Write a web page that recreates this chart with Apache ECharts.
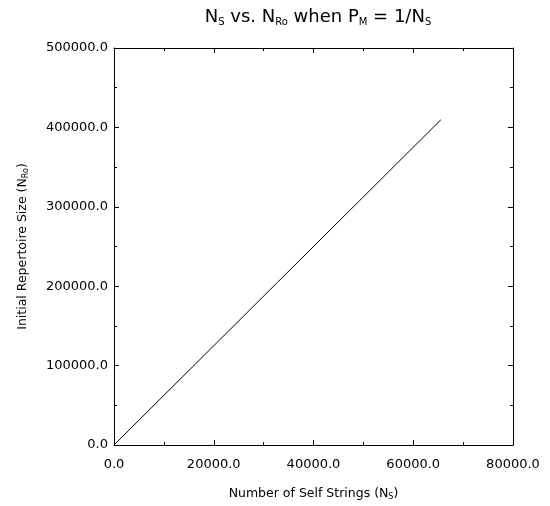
<!DOCTYPE html>
<html><head><meta charset="utf-8">
<script src="https://cdn.jsdelivr.net/npm/echarts@6/dist/echarts.min.js"></script>
<style>html,body{margin:0;padding:0;background:#fff}#c{width:550px;height:506px}</style>
</head><body><div id="c"></div>
<script>
var nsValues = [0, 16384, 32768, 49152, 65536];
var nroValues = [0, 102400, 204800, 307200, 409600];
var xTicks = [0, 20000, 40000, 60000, 80000];
var yTicks = [0, 100000, 200000, 300000, 400000, 500000];

var FONT = 'DejaVu Sans';
var chart = echarts.init(document.getElementById('c'), null, {renderer: 'canvas'});
var data = nsValues.map(function (v, i) { return [v, nroValues[i]]; });
function fmt(v) { return v.toFixed(1); }
var sub = {fontSize: 10, fontFamily: FONT, fontWeight: 'normal', color: '#000', padding: [9, 0, 0, 0]};
var subS = {fontSize: 8, fontFamily: FONT, fontWeight: 'normal', color: '#000', padding: [7, 0, 0, 0]};
function mkX(pos, show) {
  return {
    type: 'value', position: pos, min: xTicks[0], max: xTicks[xTicks.length - 1], interval: 20000,
    axisLine: {show: true, onZero: false, lineStyle: {color: '#000', width: 1}},
    axisTick: {show: true, inside: true, length: 5, lineStyle: {color: '#000'}},
    minorTick: {show: true, splitNumber: 2, length: 3, lineStyle: {color: '#000'}},
    splitLine: {show: false},
    axisLabel: {show: show, formatter: fmt, color: '#000', fontFamily: FONT, fontSize: 13, margin: 13},
    name: show ? '{n|Number of Self Strings (N}{s|S}{n|)}' : '',
    nameLocation: 'middle', nameGap: 41,
    nameTextStyle: {rich: {n: {fontSize: 12.5, fontFamily: FONT, color: '#000'}, s: subS}}
  };
}
function mkY(pos, show) {
  return {
    type: 'value', position: pos, min: yTicks[0], max: yTicks[yTicks.length - 1], interval: 100000,
    axisLine: {show: true, onZero: false, lineStyle: {color: '#000', width: 1}},
    axisTick: {show: true, inside: true, length: 5, lineStyle: {color: '#000'}},
    minorTick: {show: true, splitNumber: 2, length: 3, lineStyle: {color: '#000'}},
    splitLine: {show: false},
    axisLabel: {show: show, formatter: fmt, color: '#000', fontFamily: FONT, fontSize: 13, margin: 6},
    name: show ? '{n|Initial Repertoire Size (N}{s|Ro}{n|)}' : '',
    nameLocation: 'middle', nameGap: 84, nameRotate: 90,
    nameTextStyle: {rich: {n: {fontSize: 12.5, fontFamily: FONT, color: '#000'}, s: subS}}
  };
}
chart.setOption({
  animation: false,
  title: {
    text: '{n|N}{s|S}{n| vs. N}{s|Ro}{n| when P}{s|M}{n| = 1/N}{s|S}',
    left: 313, top: 3, textAlign: 'center',
    textStyle: {fontWeight: 'normal', rich: {n: {fontSize: 18, fontFamily: FONT, fontWeight: 'normal', color: '#000'}, s: sub}}
  },
  grid: {left: 114, top: 48, width: 399, height: 400, containLabel: false},
  xAxis: [mkX('bottom', true), mkX('top', false)],
  yAxis: [mkY('left', true), mkY('right', false)],
  series: [{
    type: 'line', data: data, xAxisIndex: 0, yAxisIndex: 0,
    showSymbol: false, symbol: 'none',
    lineStyle: {color: '#000', width: 1}
  }]
});
</script></body></html>
